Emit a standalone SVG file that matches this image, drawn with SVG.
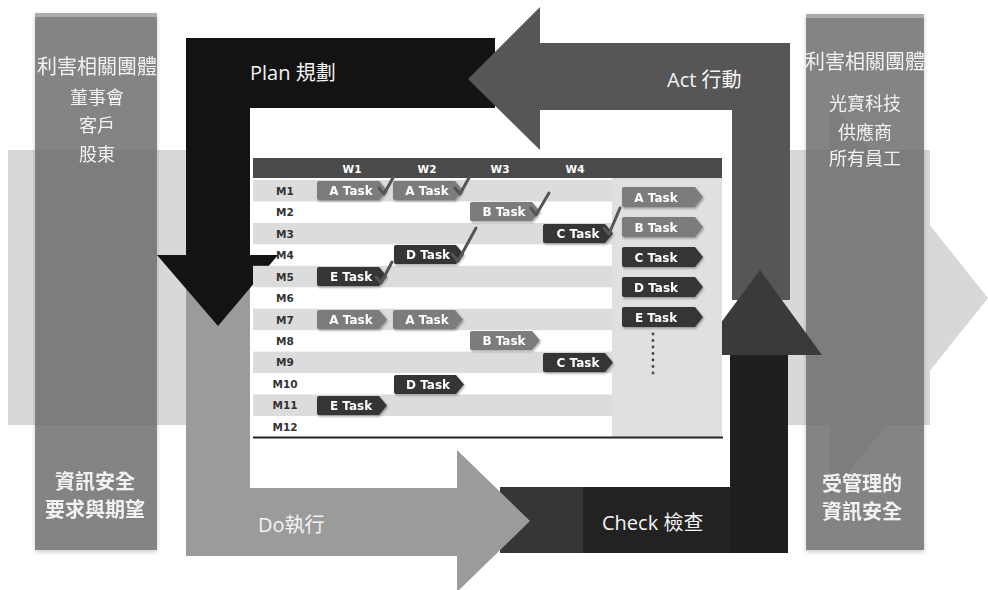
<svg xmlns="http://www.w3.org/2000/svg" xmlns:xlink="http://www.w3.org/1999/xlink" width="988" height="590" viewBox="0 0 988 590">
<style>
.box{fill:#6e6e6e;fill-opacity:.8}
.boxhl{fill:#ffffff;fill-opacity:.3}
.bt{font-family:"Noto Sans CJK TC","Noto Sans CJK SC",sans-serif;fill:#f2f2f2;text-anchor:middle}
.lab{font-family:"Open Sans","Noto Sans CJK TC",sans-serif;font-size:20px;fill:#f4f4f4}
.hd{font-family:"DejaVu Sans",sans-serif;font-size:10.5px;font-weight:bold;fill:#ffffff;text-anchor:middle}
.rl{font-family:"DejaVu Sans",sans-serif;font-size:10.5px;font-weight:bold;fill:#333;text-anchor:middle}
.tt{font-family:"DejaVu Sans",sans-serif;font-size:12px;font-weight:bold;fill:#ffffff;text-anchor:middle}
.mid{fill:#7b7b7b}
.dark{fill:#343434}
.chk{fill:none;stroke:#555;stroke-width:3;stroke-linecap:round;stroke-linejoin:round}
</style>
<defs>
<path id="tag" d="M2 0 H62 L70 9.5 L62 19 H2 Q0 19 0 17 V2 Q0 0 2 0 Z"/>
<path id="tagR" d="M2 0 H73 L81 10 L73 20 H2 Q0 20 0 18 V2 Q0 0 2 0 Z"/>
<filter id="sh" x="-10%" y="-20%" width="130%" height="160%">
<feDropShadow dx="1" dy="1.5" stdDeviation="1" flood-color="#000" flood-opacity="0.35"/>
</filter>
<filter id="bsh" x="-10%" y="-5%" width="130%" height="110%">
<feDropShadow dx="0" dy="2" stdDeviation="2" flood-color="#000" flood-opacity="0.25"/>
</filter>
</defs>
<rect width="988" height="590" fill="#ffffff"/>

<g id="band">
<rect x="8" y="150" width="922" height="275" fill="#d8d8d8"/>
<polygon points="830,100 988,298 830,496" fill="#d8d8d8"/>
</g>

<g id="stakeholders-left" filter="url(#bsh)">
<rect class="box" x="35" y="13" width="122" height="537"/>
<rect class="boxhl" x="35" y="13" width="122" height="4"/>
<text class="bt" x="97" y="74" font-size="20">利害相關團體</text>
<text class="bt" x="97" y="104" font-size="18">董事會</text>
<text class="bt" x="97" y="132" font-size="18">客戶</text>
<text class="bt" x="97" y="161" font-size="18">股東</text>
<text class="bt" x="95" y="489" font-size="20" font-weight="bold">資訊安全</text>
<text class="bt" x="95" y="517" font-size="20" font-weight="bold">要求與期望</text>
</g>

<g id="stakeholders-right" filter="url(#bsh)">
<rect class="box" x="806" y="14" width="118" height="536"/>
<rect class="boxhl" x="806" y="14" width="118" height="4"/>
<text class="bt" x="865" y="69" font-size="20">利害相關團體</text>
<text class="bt" x="865" y="110" font-size="18">光寶科技</text>
<text class="bt" x="865" y="139" font-size="18">供應商</text>
<text class="bt" x="865" y="165" font-size="18">所有員工</text>
<text class="bt" x="862" y="491" font-size="20" font-weight="bold">受管理的</text>
<text class="bt" x="862" y="519" font-size="20" font-weight="bold">資訊安全</text>
</g>

<g id="panel">
<rect x="245" y="104" width="492" height="388" fill="#ffffff"/>
</g>

<g id="connectors">
<g id="check">
<rect x="500" y="487" width="288" height="66" fill="#222"/>
<rect x="500" y="487" width="83" height="66" fill="#363636"/>
<rect x="730" y="355" width="58" height="198" fill="#1f1f1f"/>
</g>
<g id="do">
<path d="M186 262 H250 V488 H457 V450 L530 521 L457 592 V556 H186 Z" fill="#9b9b9b"/>
<text class="lab" x="258" y="532">Do執行</text>
</g>
<g id="plan">
<path d="M186 38 H495 V108 H250 V255 H278 L218 326 L157 255 H186 Z" fill="#131313"/>
<text class="lab" x="250" y="80">Plan 規劃</text>
</g>
<g id="act">
<path d="M540 7 V43 H790 V300 H732 V110 H540 V150 L468 79 Z" fill="#565656"/>
<text class="lab" x="667" y="87">Act 行動</text>
</g>
<g id="check-head">
<polygon points="697,355 760,270 822,355" fill="#3a3a3a"/>
<text class="lab" x="602" y="530">Check 檢查</text>
</g>
</g>

<g id="table">
<rect x="253" y="158" width="469" height="20" fill="#4a4a4a"/>
<text class="hd" x="352" y="173">W1</text>
<text class="hd" x="427" y="173">W2</text>
<text class="hd" x="500" y="173">W3</text>
<text class="hd" x="575" y="173">W4</text>
<rect x="253" y="180" width="359" height="21.45" fill="#dcdcdc"/>
<rect x="253" y="222.9" width="359" height="21.45" fill="#dcdcdc"/>
<rect x="253" y="265.8" width="359" height="21.45" fill="#dcdcdc"/>
<rect x="253" y="308.7" width="359" height="21.45" fill="#dcdcdc"/>
<rect x="253" y="351.6" width="359" height="21.45" fill="#dcdcdc"/>
<rect x="253" y="394.5" width="359" height="21.45" fill="#dcdcdc"/>
<rect x="612" y="178" width="110" height="259" fill="#e0e0e0"/>
<line x1="253" y1="437.5" x2="723" y2="437.5" stroke="#222" stroke-width="2"/>
<text class="rl" x="285" y="195">M1</text>
<text class="rl" x="285" y="216">M2</text>
<text class="rl" x="285" y="237.5">M3</text>
<text class="rl" x="285" y="259">M4</text>
<text class="rl" x="285" y="280.5">M5</text>
<text class="rl" x="285" y="302">M6</text>
<text class="rl" x="285" y="323.5">M7</text>
<text class="rl" x="285" y="345">M8</text>
<text class="rl" x="285" y="366">M9</text>
<text class="rl" x="285" y="387.5">M10</text>
<text class="rl" x="285" y="409">M11</text>
<text class="rl" x="285" y="430.5">M12</text>
</g>

<g id="tasks" filter="url(#sh)">
<use href="#tag" class="mid" x="317" y="181"/><text class="tt" x="351" y="195">A Task</text>
<use href="#tag" class="mid" x="393" y="181"/><text class="tt" x="427" y="195">A Task</text>
<use href="#tag" class="mid" x="470" y="202"/><text class="tt" x="504" y="216">B Task</text>
<use href="#tag" class="dark" x="543" y="224"/><text class="tt" x="578" y="238">C Task</text>
<use href="#tag" class="dark" x="394" y="245"/><text class="tt" x="428" y="259">D Task</text>
<use href="#tag" class="dark" x="317" y="267"/><text class="tt" x="351" y="281">E Task</text>
<use href="#tag" class="mid" x="317" y="310"/><text class="tt" x="351" y="324">A Task</text>
<use href="#tag" class="mid" x="393" y="310"/><text class="tt" x="427" y="324">A Task</text>
<use href="#tag" class="mid" x="470" y="331"/><text class="tt" x="504" y="345">B Task</text>
<use href="#tag" class="dark" x="543" y="353"/><text class="tt" x="578" y="367">C Task</text>
<use href="#tag" class="dark" x="394" y="375"/><text class="tt" x="428" y="389">D Task</text>
<use href="#tag" class="dark" x="317" y="396"/><text class="tt" x="351" y="410">E Task</text>
<use href="#tagR" class="mid" x="622" y="187"/><text class="tt" x="656" y="201.5">A Task</text>
<use href="#tagR" class="mid" x="622" y="217"/><text class="tt" x="656" y="231.5">B Task</text>
<use href="#tagR" class="dark" x="622" y="247"/><text class="tt" x="656" y="261.5">C Task</text>
<use href="#tagR" class="dark" x="622" y="277"/><text class="tt" x="656" y="291.5">D Task</text>
<use href="#tagR" class="dark" x="622" y="307"/><text class="tt" x="656" y="321.5">E Task</text>
</g>

<g id="checks">
<polyline class="chk" points="379,188 384,194 394,176"/>
<polyline class="chk" points="455,188 460,194 470,176"/>
<polyline class="chk" points="531,208 536,215 549,193"/>
<polyline class="chk" points="604,228 609,234 620,208"/>
<polyline class="chk" points="452,254 458,261 476,228"/>
<polyline class="chk" points="376,277 381,283 392,262"/>
</g>

<g id="dots" fill="#444">
<circle cx="653" cy="334" r="1.4"/>
<circle cx="653" cy="340.5" r="1.4"/>
<circle cx="653" cy="347" r="1.4"/>
<circle cx="653" cy="353.5" r="1.4"/>
<circle cx="653" cy="360" r="1.4"/>
<circle cx="653" cy="366.5" r="1.4"/>
<circle cx="653" cy="373" r="1.4"/>
</g>
</svg>
